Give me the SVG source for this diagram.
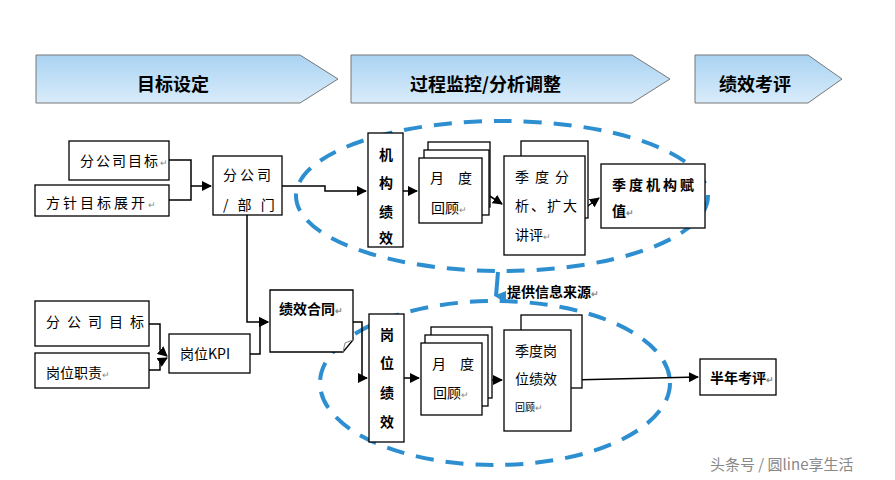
<svg xmlns="http://www.w3.org/2000/svg" width="895" height="480" viewBox="0 0 895 480">
<defs>
<linearGradient id="g" x1="0" y1="0" x2="0" y2="1"><stop offset="0" stop-color="#a9d3f2"/><stop offset="1" stop-color="#d9ecfa"/></linearGradient>
<marker id="a" markerWidth="10" markerHeight="10" refX="9" refY="5" orient="auto" markerUnits="userSpaceOnUse"><path d="M0,0 L10,5 L0,10 Z" fill="#000"/></marker>
<marker id="b" markerWidth="12" markerHeight="12" refX="6" refY="10" orient="auto" markerUnits="userSpaceOnUse"><path d="M0,0 L12,0 L6,12 Z" fill="#2e8fd0"/></marker>
</defs>
<style>
text{font-family:"Noto Sans CJK SC","Liberation Serif",serif;fill:#000}
.box{fill:#fff;stroke:#000;stroke-width:1.3}
.hd{fill:url(#g);stroke:#777;stroke-width:1}
.t{font-size:14px}
.b{font-size:14px;font-weight:bold}
.h{font-size:18px;font-weight:bold}
.c{stroke:#000;stroke-width:1.5;fill:none}
.e{fill:none;stroke:#2e8fd0;stroke-width:4;stroke-dasharray:18 12}
.m{font-size:9px;fill:#888}
</style>
<rect width="895" height="480" fill="#fff"/>
<g id="headers">
<polygon class="hd" points="36,55 300,55 338,79 300,103 36,103"/>
<text class="h" x="137" y="91">目标设定</text>
<polygon class="hd" points="351,55 632,55 670,79 632,103 351,103"/>
<text class="h" x="410" y="91">过程监控/分析调整</text>
<polygon class="hd" points="695,55 808,55 842,79 808,103 695,103"/>
<text class="h" x="719" y="91">绩效考评</text>
</g>
<g id="ellipses">
<ellipse class="e" cx="502" cy="196" rx="206" ry="75"/>
<ellipse class="e" cx="495" cy="383" rx="175" ry="82"/>
</g>
<g id="connectors">
<path class="c" d="M169,160 H191 V200 H169 M191,186 H211" marker-end="url(#a)"/>
<path class="c" d="M282,186 H325 V191 H366" marker-end="url(#a)"/>
<path class="c" d="M247,215 V322 H268" marker-end="url(#a)"/>
<path class="c" d="M403,191 H417" marker-end="url(#a)"/>
<path class="c" d="M482,191 L502,204" marker-end="url(#a)"/>
<path class="c" d="M585,208 L599,198" marker-end="url(#a)"/>
<path class="c" d="M149,324 H160 V350 L167,356" marker-end="url(#a)"/>
<path class="c" d="M149,370 H160 V362 L167,358" marker-end="url(#a)"/>
<path class="c" d="M250,354 H260 V322 H268" marker-end="url(#a)"/>
<path class="c" d="M353,322 H362 V378 H367" marker-end="url(#a)"/>
<path class="c" d="M404,378 H419" marker-end="url(#a)"/>
<path class="c" d="M482,380 H502" marker-end="url(#a)"/>
<path class="c" d="M571,380 L698,377" marker-end="url(#a)"/>
<path d="M498,272 L496,296" stroke="#2e8fd0" stroke-width="4" fill="none" marker-end="url(#b)"/>
</g>
<g id="n1"><rect class="box" x="69" y="141" width="100" height="39"/><text class="t" x="80" y="166" letter-spacing="2">分公司目标<tspan class="m">↵</tspan></text></g>
<g id="n2"><rect class="box" x="35" y="185" width="134" height="31"/><text class="t" x="46" y="208" letter-spacing="3">方针目标展开<tspan class="m">↵</tspan></text></g>
<g id="n3"><rect class="box" x="213" y="156" width="69" height="59"/><text class="t" x="223" y="180" letter-spacing="3">分公司</text><text class="t" x="223" y="210" letter-spacing="3">/ 部 门</text></g>
<g id="n4"><rect class="box" x="368" y="133" width="35" height="114"/><text class="b" x="379" y="160">机</text><text class="b" x="379" y="188">构</text><text class="b" x="379" y="217">绩</text><text class="b" x="379" y="243" font-size="10">效</text></g>
<g id="n5"><rect class="box" x="428" y="142" width="62" height="65"/><rect class="box" x="424" y="150" width="65" height="65"/><rect class="box" x="419" y="158" width="63" height="65"/><text class="t" x="430" y="183">月</text><text class="t" x="458" y="183">度</text><text class="t" x="431" y="213">回顾<tspan class="m">↵</tspan></text></g>
<g id="n6"><rect class="box" x="521" y="141" width="67" height="77"/><rect class="box" x="504" y="156" width="81" height="99"/><text class="t" x="515" y="182" letter-spacing="6">季度分</text><text class="t" x="515" y="211" letter-spacing="2">析、扩大</text><text class="t" x="515" y="240">讲评<tspan class="m">↵</tspan></text></g>
<g id="n7"><rect class="box" x="601" y="164" width="104" height="64"/><text class="b" x="612" y="190" letter-spacing="3">季度机构赋</text><text class="b" x="612" y="216">值<tspan class="m">↵</tspan></text></g>
<g id="lbl"><text class="b" x="507" y="297" font-size="12">提供信息来源<tspan class="m">↵</tspan></text></g>
<g id="n8"><rect class="box" x="35" y="301" width="114" height="45"/><text class="t" x="46" y="327" letter-spacing="7">分公司目标</text></g>
<g id="n9"><rect class="box" x="35" y="353" width="114" height="35"/><text class="t" x="46" y="378">岗位职责<tspan class="m">↵</tspan></text></g>
<g id="n10"><rect class="box" x="169" y="334" width="81" height="39"/><text class="t" x="180" y="359">岗位KPI</text></g>
<g id="n11"><path class="box" d="M270,290 H353 V340 L343,352 H270 Z"/><path d="M343,352 L345,343 L353,340" fill="none" stroke="#888"/><text class="b" x="279" y="314">绩效合同<tspan class="m">↵</tspan></text></g>
<g id="n12"><rect class="box" x="369" y="314" width="35" height="128"/><text class="b" x="380" y="340">岗</text><text class="b" x="380" y="368">位</text><text class="b" x="380" y="398">绩</text><text class="b" x="380" y="427">效</text></g>
<g id="n13"><rect class="box" x="431" y="327" width="61" height="71"/><rect class="box" x="425" y="335" width="63" height="71"/><rect class="box" x="421" y="343" width="61" height="72"/><text class="t" x="432" y="369">月</text><text class="t" x="460" y="369">度</text><text class="t" x="433" y="398">回顾<tspan class="m">↵</tspan></text></g>
<g id="n14"><rect class="box" x="521" y="315" width="61" height="73"/><rect class="box" x="504" y="330" width="67" height="101"/><text class="t" x="515" y="356">季度岗</text><text class="t" x="515" y="384">位绩效</text><text x="515" y="411" font-size="10">回顾<tspan class="m">↵</tspan></text></g>
<g id="n15"><rect class="box" x="700" y="359" width="76" height="36"/><text class="b" x="710" y="383" font-size="13">半年考评<tspan class="m">↵</tspan></text></g>
<text x="710" y="470" font-size="15" style="fill:#888">头条号 / 圆line享生活</text>
</svg>
